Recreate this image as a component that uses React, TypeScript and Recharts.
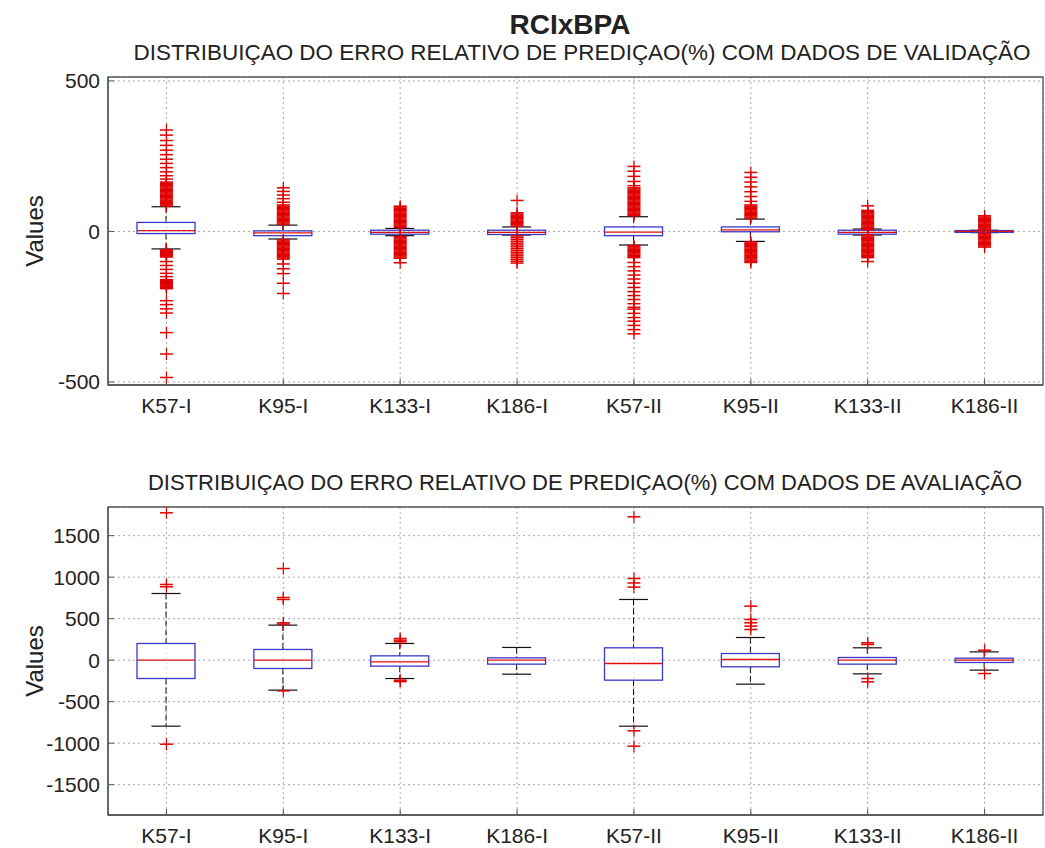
import React from "react";
import {
  ComposedChart,
  Bar,
  Scatter,
  XAxis,
  YAxis,
  CartesianGrid,
  ReferenceArea,
} from "recharts";

const categories = ["K57-I", "K95-I", "K133-I", "K186-I", "K57-II", "K95-II", "K133-II", "K186-II"];
const positions = [1, 2, 3, 4, 5, 6, 7, 8];

// validation set: box statistics
const valQ1 = [-7, -14, -9, -10, -14, -1, -9, -3];
const valMedian = [3, -5, -3, -3, -2, 5, -3, 0];
const valQ3 = [30, 2, 4, 4, 15, 15, 4, 3];
const valLow = [-58, -25, -14, -12, -45, -33, -12, -4];
const valHigh = [82, 21, 10, 15, 49, 41, 8, 4];

// validation set: outliers per model
const valOutK57I = [
  337, 320, 302, 286, 270, 255, 240, 226, 212, 198, 185, 174,
  164, 160, 156, 152, 148, 144, 140, 136, 132, 128, 124, 120, 116, 112, 108, 104, 100, 96, 92, 88, 85,
  -61, -64, -67, -70, -73, -76, -79, -82, -85,
  -100, -113, -126, -139, -150,
  -160, -163, -166, -169, -172, -175, -178, -181, -184, -187, -190,
  -230, -243, -257, -271, -336, -407, -485,
];
const valOutK95I = [
  145, 133, 121, 109, 97,
  88, 84, 80, 76, 72, 68, 64, 60, 56, 52, 48, 44, 40, 36, 32, 28, 24,
  -28, -32, -36, -40, -44, -48, -52, -56, -60, -64, -68, -72, -76, -80, -84, -88, -92,
  -108, -124, -140, -172, -206,
];
const valOutK133I = [
  13, 17, 21, 25, 29, 33, 37, 41, 45, 49, 53, 57, 61, 65, 69, 73, 77, 81, 84,
  -17, -21, -25, -29, -33, -37, -41, -45, -49, -53, -57, -61, -65, -69, -73, -77, -81, -85, -89,
  -104,
];
const valOutK186I = [
  103,
  18, 22, 26, 30, 34, 38, 42, 46, 50, 54, 58, 62,
  -15, -21, -27, -33, -39, -45, -51, -57, -63, -69, -75, -81, -87, -93, -99, -105,
];
const valOutK57II = [
  216, 200, 183, 166, 152,
  145, 141, 137, 133, 129, 125, 121, 117, 113, 109, 105, 101, 97, 93, 89, 85, 81, 77, 73, 69, 65, 61, 57, 53,
  -47, -51, -55, -59, -63, -67, -71, -75, -79, -83, -87,
  -103, -117, -131, -145, -158, -172, -186, -200, -213, -226, -240, -252, -258, -272, -286, -298, -312, -326, -340,
];
const valOutK95II = [
  196, 180, 164, 148, 132, 116, 100,
  88, 84, 80, 76, 72, 68, 64, 60, 56, 52, 48, 44,
  -35, -39, -43, -47, -51, -55, -59, -63, -67, -71, -75, -79, -83, -87, -91, -95, -99, -103,
];
const valOutK133II = [
  85,
  70, 66, 62, 58, 54, 50, 46, 42, 38, 34, 30, 26, 22, 18, 14, 10, 6,
  -11, -15, -19, -23, -27, -31, -35, -39, -43, -47, -51, -55, -59, -63, -67, -71, -75, -79, -83, -87,
  -100,
];
const valOutK186II = [
  52, 48, 44, 40, 36, 32, 28, 24, 20, 16, 12, 8, 6,
  -6, -8, -12, -16, -20, -24, -28, -32, -36, -40, -44, -48, -52,
];

// evaluation set: box statistics
const evalQ1 = [-221, -100, -72, -48, -241, -80, -48, -28];
const evalMedian = [0, 0, -20, 0, -40, 8, 0, 0];
const evalQ3 = [201, 129, 52, 28, 149, 80, 32, 24];
const evalLow = [-795, -361, -221, -169, -795, -289, -165, -120];
const evalHigh = [803, 422, 201, 153, 731, 273, 149, 100];

// evaluation set: outliers per model
const evalOutK57I = [1775, 912, 884, -1012];
const evalOutK95I = [1104, 755, 731, 450, 434, -370];
const evalOutK133I = [261, 241, 221, -241, -258];
const evalOutK186I: number[] = [];
const evalOutK57II = [1727, 984, 930, 880, -851, -1036];
const evalOutK95II = [651, 490, 450, 410, 370];
const evalOutK133II = [209, 189, -221, -261];
const evalOutK186II = [120, -161];

const valTicks = [-500, 0, 500];
const valDomain = [-510, 513];
const evalTicks = [-1500, -1000, -500, 0, 500, 1000, 1500];
const evalDomain = [-1865, 1845];

const FONT = '"Liberation Sans", Arial, sans-serif';
const TEXT = "#222";
const AXIS = "#555";

type BoxRow = {
  pos: number;
  range: [number, number];
  lo: number;
  q1: number;
  med: number;
  q3: number;
  hi: number;
};

function buildBoxes(q1: number[], med: number[], q3: number[], lo: number[], hi: number[]): BoxRow[] {
  return positions.map((p, i) => ({
    pos: p,
    range: [lo[i], hi[i]],
    lo: lo[i],
    q1: q1[i],
    med: med[i],
    q3: q3[i],
    hi: hi[i],
  }));
}

function buildOutliers(lists: number[][]) {
  return lists.flatMap((vals, i) => vals.map((v) => ({ pos: positions[i], v })));
}

const valBoxes = buildBoxes(valQ1, valMedian, valQ3, valLow, valHigh);
const evalBoxes = buildBoxes(evalQ1, evalMedian, evalQ3, evalLow, evalHigh);
const valOutliers = buildOutliers([
  valOutK57I, valOutK95I, valOutK133I, valOutK186I,
  valOutK57II, valOutK95II, valOutK133II, valOutK186II,
]);
const evalOutliers = buildOutliers([
  evalOutK57I, evalOutK95I, evalOutK133I, evalOutK186I,
  evalOutK57II, evalOutK95II, evalOutK133II, evalOutK186II,
]);

// the bar spans whisker to whisker; the rest is placed on the same linear scale
function BoxShape(props: any) {
  const { x, y, width, height, payload } = props;
  if (!payload || width == null || isNaN(y)) return null;
  const top = Math.min(y, y + height);
  const bottom = Math.max(y, y + height);
  const span = payload.hi - payload.lo;
  const toY = (v: number) => top + ((payload.hi - v) / span) * (bottom - top);
  const cx = x + width / 2;
  const cap = width / 4;
  const yq3 = toY(payload.q3);
  const yq1 = toY(payload.q1);
  return (
    <g>
      <line x1={cx} x2={cx} y1={top} y2={yq3} stroke="#111" strokeWidth={1} strokeDasharray="6 3" />
      <line x1={cx} x2={cx} y1={yq1} y2={bottom} stroke="#111" strokeWidth={1} strokeDasharray="6 3" />
      <line x1={cx - cap} x2={cx + cap} y1={top} y2={top} stroke="#111" strokeWidth={1.2} />
      <line x1={cx - cap} x2={cx + cap} y1={bottom} y2={bottom} stroke="#111" strokeWidth={1.2} />
      <rect
        x={x}
        y={yq3}
        width={width}
        height={Math.max(yq1 - yq3, 1)}
        fill="#fff"
        fillOpacity={0.6}
        stroke="#3a3ac8"
        strokeWidth={1.3}
      />
      <line x1={x} x2={x + width} y1={toY(payload.med)} y2={toY(payload.med)} stroke="#e01010" strokeWidth={1.3} />
    </g>
  );
}

function PlusShape(props: any) {
  const { cx, cy } = props;
  if (cx == null || cy == null || isNaN(cy)) return null;
  return (
    <g>
      <line x1={cx - 6.5} x2={cx + 6.5} y1={cy} y2={cy} stroke="#e00000" strokeWidth={1.5} />
      <line x1={cx} x2={cx} y1={cy - 6} y2={cy + 6} stroke="#e00000" strokeWidth={1.2} />
    </g>
  );
}

function BoxPlotPanel({
  boxes,
  outliers,
  ticks,
  domain,
}: {
  boxes: BoxRow[];
  outliers: { pos: number; v: number }[];
  ticks: number[];
  domain: number[];
}) {
  return (
    <ComposedChart
      width={1045}
      height={418}
      data={boxes}
      margin={{ top: 77, right: 2, bottom: 3, left: 8 }}
    >
      <CartesianGrid stroke="#a8a8a8" strokeDasharray="2 3" />
      <XAxis
        dataKey="pos"
        type="number"
        domain={[0.5, 8.5]}
        ticks={positions}
        allowDataOverflow
        tickFormatter={(v: number) => categories[v - 1]}
        height={30}
        tickSize={-6}
        tickMargin={19}
        tickLine={{ stroke: AXIS }}
        axisLine={{ stroke: AXIS, strokeWidth: 1.3 }}
        tick={{ fill: TEXT, fontSize: 21, fontFamily: FONT }}
      />
      <XAxis
        xAxisId="top"
        orientation="top"
        type="number"
        domain={[0.5, 8.5]}
        ticks={positions}
        allowDataOverflow
        height={0}
        tickSize={-6}
        tick={false}
        tickLine={{ stroke: AXIS }}
        axisLine={false}
      />
      <YAxis
        type="number"
        domain={domain}
        ticks={ticks}
        allowDataOverflow
        width={100}
        tickSize={-6}
        tickMargin={14}
        tickLine={{ stroke: AXIS }}
        axisLine={{ stroke: AXIS, strokeWidth: 1.3 }}
        tick={{ fill: TEXT, fontSize: 21, fontFamily: FONT }}
      />
      <YAxis
        yAxisId="right"
        orientation="right"
        type="number"
        domain={domain}
        ticks={ticks}
        allowDataOverflow
        width={0}
        tickSize={-6}
        tick={false}
        tickLine={{ stroke: AXIS }}
        axisLine={false}
      />
      <ReferenceArea
        x1={0.5}
        x2={8.5}
        y1={domain[0]}
        y2={domain[1]}
        fill="none"
        stroke={AXIS}
        strokeWidth={1.3}
        ifOverflow="visible"
      />
      <Bar dataKey="range" barSize={58} shape={<BoxShape />} isAnimationActive={false} />
      <Scatter data={outliers} dataKey="v" shape={<PlusShape />} isAnimationActive={false} />
    </ComposedChart>
  );
}

export default function App() {
  return (
    <div style={{ position: "absolute", left: 0, top: 0, width: 1045, height: 848, background: "#fff" }}>
      <div style={{ position: "absolute", left: 0, top: 0 }}>
        <BoxPlotPanel boxes={valBoxes} outliers={valOutliers} ticks={valTicks} domain={valDomain} />
      </div>
      <div style={{ position: "absolute", left: 0, top: 430 }}>
        <BoxPlotPanel boxes={evalBoxes} outliers={evalOutliers} ticks={evalTicks} domain={evalDomain} />
      </div>
      <svg
        width={1045}
        height={848}
        style={{ position: "absolute", left: 0, top: 0, pointerEvents: "none" }}
        fontFamily={FONT}
        fill={TEXT}
      >
        <text x={570} y={34} textAnchor="middle" fontSize={28} fontWeight="bold">
          RCIxBPA
        </text>
        <text x={582} y={60} textAnchor="middle" fontSize={22} textLength={897} lengthAdjust="spacingAndGlyphs">
          DISTRIBUIÇAO DO ERRO RELATIVO DE PREDIÇAO(%) COM DADOS DE VALIDAÇÃO
        </text>
        <text x={585} y={490} textAnchor="middle" fontSize={22} textLength={874} lengthAdjust="spacingAndGlyphs">
          DISTRIBUIÇAO DO ERRO RELATIVO DE PREDIÇAO(%) COM DADOS DE AVALIAÇÃO
        </text>
        <text x={0} y={0} textAnchor="middle" fontSize={24} transform="translate(43 231) rotate(-90)">
          Values
        </text>
        <text x={0} y={0} textAnchor="middle" fontSize={24} transform="translate(43 661) rotate(-90)">
          Values
        </text>
      </svg>
    </div>
  );
}
